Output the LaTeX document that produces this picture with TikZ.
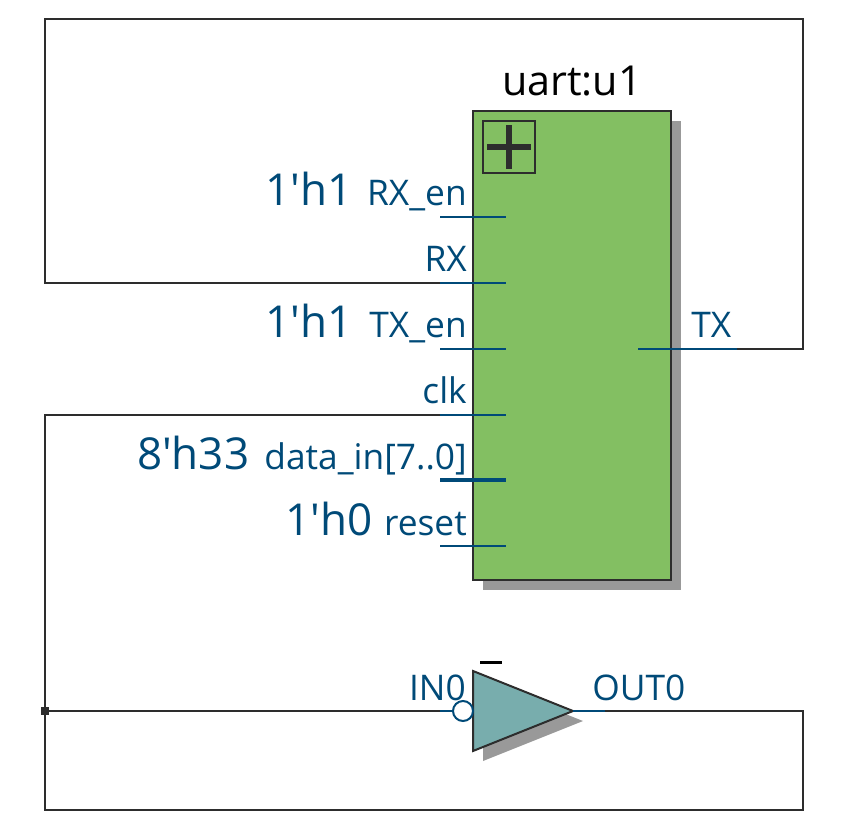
\documentclass[tikz,border=0pt]{standalone}
\usepackage{fontspec}
\setmainfont{Open Sans}
\definecolor{wireblue}{HTML}{004A78}
\definecolor{wiredark}{HTML}{2D2D2D}
\definecolor{boxgreen}{HTML}{83BF62}
\definecolor{triteal}{HTML}{78ADAD}
\definecolor{shadowgray}{HTML}{999999}
\tikzset{
  wire/.style={draw=wiredark,line width=1.5pt},
  pinwire/.style={draw=wireblue,line width=1.5pt},
  buswire/.style={draw=wireblue,line width=3.6pt},
  pinlabel/.style={anchor=base east,inner sep=0pt,text=wireblue,font=\fontsize{26.5}{26.5}\selectfont},
  pinlabelr/.style={anchor=base west,inner sep=0pt,text=wireblue,font=\fontsize{26.5}{26.5}\selectfont},
  constlabel/.style={anchor=base east,inner sep=0pt,text=wireblue,font=\fontsize{33}{33}\selectfont},
  titlelabel/.style={anchor=base,inner sep=0pt,text=black,font=\fontsize{31}{31}\selectfont},
}
\begin{document}
\begin{tikzpicture}[x=0.75pt,y=-0.75pt]
\useasboundingbox[fill=white] (0,0) rectangle (866,828);
% shadows
\fill[shadowgray] (483,121) rectangle (681,590);
\fill[shadowgray] (483,681) -- (483,761) -- (583,721) -- cycle;
% block
\node[draw=wiredark,fill=boxgreen,line width=1.5pt,minimum width=148.5pt,minimum height=351.75pt,inner sep=0pt,anchor=north west] (u1) at (472,110) {};
\node[draw=wiredark,line width=1.5pt,minimum width=39pt,minimum height=39pt,inner sep=0pt,anchor=north west] (plus) at (482,120) {};
\draw[draw=wiredark,line width=4.5pt] (plus.center) ++(-22,0) coordinate (pl) -- ++(44,0) coordinate (pr);
\draw[draw=wiredark,line width=4.5pt] (plus.center) ++(0,-22) coordinate (pt) -- ++(0,44) coordinate (pb);
\node[titlelabel] (title) at (572,95) {uart:u1};
% pin coordinates
\coordinate (rxenL) at (440,216.5); \coordinate (rxenR) at (506,216.5);
\coordinate (rxL) at (440,282.5);   \coordinate (rxR) at (506,282.5);
\coordinate (txenL) at (440,348.5); \coordinate (txenR) at (506,348.5);
\coordinate (clkL) at (440,414.5);  \coordinate (clkR) at (506,414.5);
\coordinate (dataL) at (440,480); \coordinate (dataR) at (506,480);
\coordinate (rstL) at (440,546);  \coordinate (rstR) at (506,546);
\coordinate (txI) at (638,348.5);   \coordinate (txO) at (737,348.5);
% routes
\coordinate (c1) at (803,348.5); \coordinate (c2) at (803,19); \coordinate (c3) at (45,19); \coordinate (c4) at (45,282.5);
\coordinate (d1) at (45,414.5); \coordinate (d2) at (45,810); \coordinate (d3) at (803,810); \coordinate (d4) at (803,711);
\coordinate (junc) at (45,711);
\draw[wire] (txO) -- (c1) -- (c2) -- (c3) -- (c4) -- (rxL);
\draw[wire] (clkL) -- (d1) -- (d2) -- (d3) -- (d4) -- (605,711) coordinate (outO);
\draw[wire] (junc) -- (440,711) coordinate (inO);
\fill[wiredark] (41,707) rectangle (49,715);
\draw[pinwire] (rxenL) -- (rxenR);
\draw[pinwire] (rxL) -- (rxR);
\draw[pinwire] (txenL) -- (txenR);
\draw[pinwire] (clkL) -- (clkR);
\draw[buswire] (dataL) -- (dataR);
\draw[pinwire] (rstL) -- (rstR);
\draw[pinwire] (txI) -- (txO);
% labels
\node[pinlabel] (l1) at (467,205.5) {RX\_en};
\node[pinlabel] (l2) at (467,271.5) {RX};
\node[pinlabel] (l3) at (467,337.5) {TX\_en};
\node[pinlabel] (l4) at (467,403.5) {clk};
\node[pinlabel] (l5) at (467,469.5) {data\_in[7..0]};
\node[pinlabel] (l6) at (467,535.5) {reset};
\node[pinlabelr] (l7) at (691,337.5) {TX};
\node[constlabel] (k1) at (353,205) {1\textquotesingle h1};
\node[constlabel] (k2) at (353,337) {1\textquotesingle h1};
\node[constlabel] (k3) at (249.5,469) {8\textquotesingle h33};
\node[constlabel] (k4) at (373,535) {1\textquotesingle h0};
% inverter
\draw[draw=wiredark,fill=triteal,line width=1.5pt,line join=miter] (473,671) coordinate (ta) -- (473,751) coordinate (tb) -- (573,711) coordinate (tc) -- cycle;
\draw[pinwire] (inO) -- (453,711) coordinate (bw);
\draw[pinwire] (tc) -- (outO);
\node[circle,draw=wireblue,fill=white,line width=1.5pt,minimum size=15pt,inner sep=0pt] (bub) at (463,711) {};
\fill[black] (480,661) rectangle (502,664);
\node[pinlabel] (l8) at (466,700.5) {IN0};
\node[pinlabelr] (l9) at (592,700.5) {OUT0};
\end{tikzpicture}
\end{document}
